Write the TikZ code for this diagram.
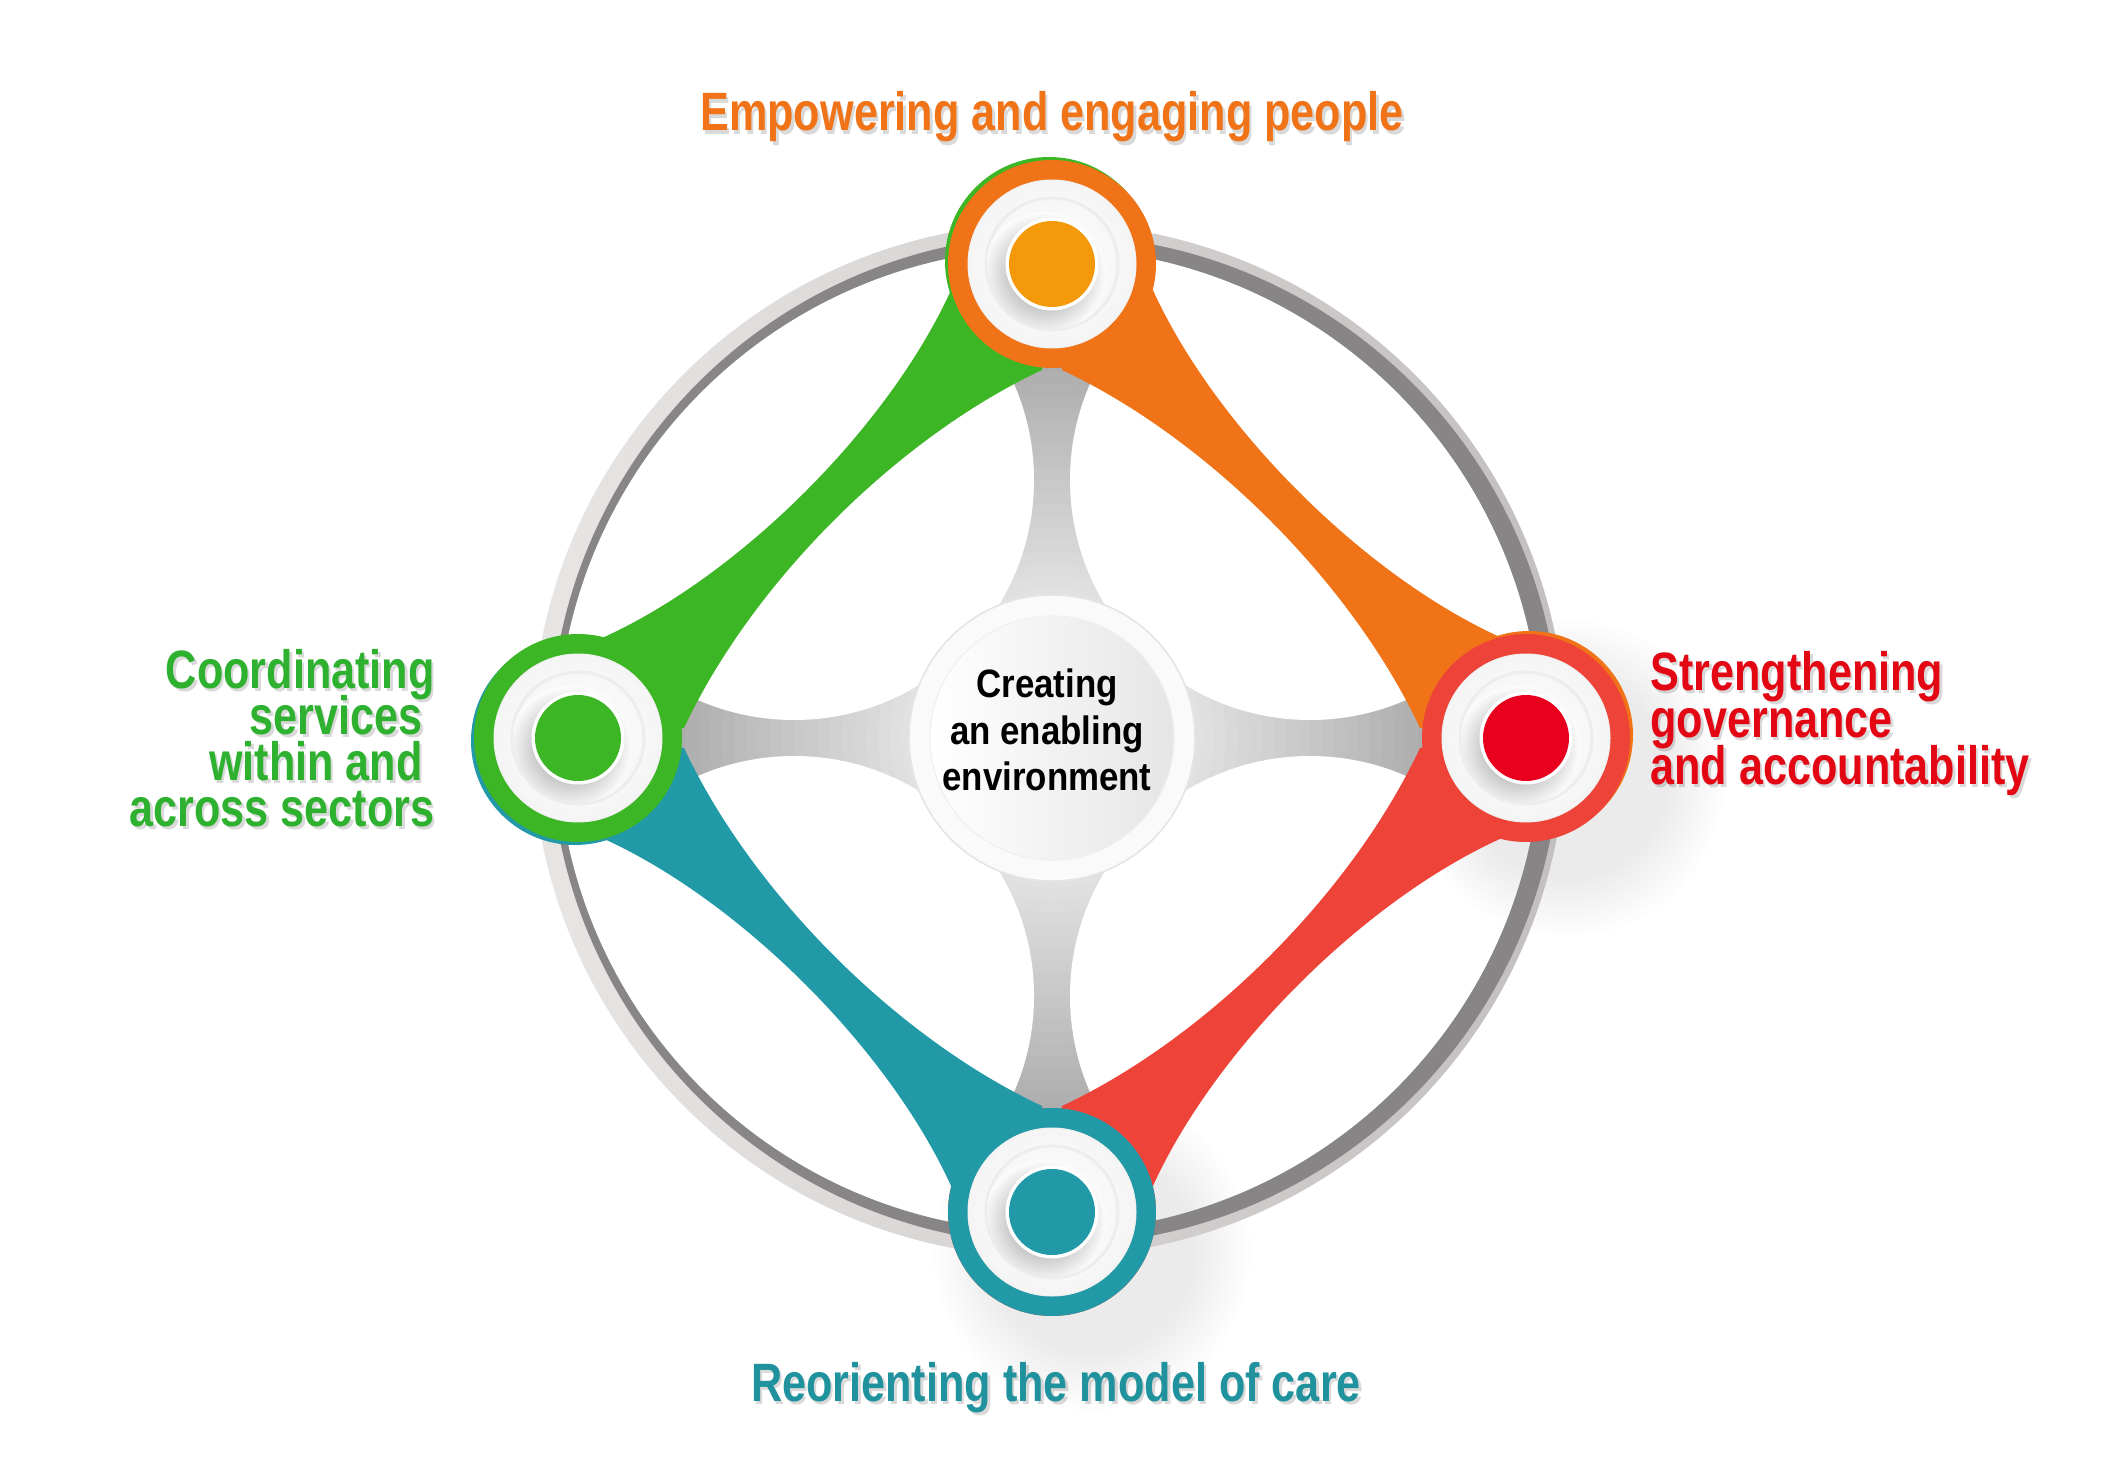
\documentclass[tikz,border=0pt]{standalone}
\usepackage{fontspec}
\newfontfamily\labfont{Liberation Sans}[FakeStretch=0.8]
\newfontfamily\cenfont{Liberation Sans}[FakeStretch=0.88]
\usetikzlibrary{calc}
\definecolor{cOrange}{HTML}{F07417}
\definecolor{cOrangeDot}{HTML}{F49A0A}
\definecolor{cOrangeTxt}{HTML}{F07318}
\definecolor{cRed}{HTML}{EE4338}
\definecolor{cRedDot}{HTML}{E8001E}
\definecolor{cRedTxt}{HTML}{E30613}
\definecolor{cGreen}{HTML}{3CB624}
\definecolor{cGreenTxt}{HTML}{2DB12E}
\definecolor{cTeal}{HTML}{2199A7}
\definecolor{cTealTxt}{HTML}{1F929E}
\definecolor{ringL}{HTML}{E8E6E5}
\definecolor{ringR}{HTML}{C2BFBE}
\definecolor{ringD}{HTML}{878585}
\definecolor{shadeLav}{HTML}{5A5A8C}
\tikzset{
  lab/.style={font=\labfont\bfseries\fontsize{27}{23}\selectfont, inner sep=0pt},
  cen/.style={font=\cenfont\bfseries\fontsize{19.8}{23}\selectfont, inner sep=0pt, text=black},
  shadowtxt/.style={text=black, opacity=0.15}
}
\newcommand{\hubnode}[4]{%
  \node[circle, fill=#3, minimum size=104pt, inner sep=0pt] (#1) at (#2) {};
  \shade[inner color=white, outer color=black!4] (#2) circle (84);
  \draw[black!6, line width=0.5pt] (#2) circle (84);
  \draw[black!7, line width=1.5pt] (#2) circle (66);
  \begin{scope}
    \clip (#2) circle (65);
    \shade[inner color=black!65, outer color=white, opacity=0.7] ($(#2)+(-8,10)$) circle (62);
  \end{scope}
  \fill[white] (#2) circle (46.5);
  \node[circle, fill=#4, minimum size=43pt, inner sep=0pt] (#1dot) at (#2) {};
}
\newcommand{\softshadow}[2]{%
  \foreach \k in {0,...,9}{
    \fill[shadeLav, opacity=0.012] ($(#1)+(#2)$) circle (104+\k*6);
  }
}
\newcommand{\plabel}[5]{%
  \node[lab, shadowtxt, anchor=#2] (#1s) at ($(#3)+(2.5,3.5)$) {#5};
  \node[lab, text=#4, anchor=#2] (#1) at (#3) {#5};
}
\begin{document}
\begin{tikzpicture}[x=0.5pt,y=-0.5pt]
\useasboundingbox (0,0) rectangle (2117,1482);
\fill[white] (0,0) rectangle (2117,1482);

\coordinate (C) at (1052,738);
\coordinate (T) at (1052,264);
\coordinate (R) at (1526,738);
\coordinate (B) at (1052,1212);
\coordinate (L) at (578,738);
\coordinate (RC) at (1049,740);

% soft shadows of the right and lower hubs
\softshadow{R}{40,40}
\softshadow{B}{40,40}

% outer gray ring
\shade[left color=ringL, right color=ringR, even odd rule] (RC) circle (517) (RC) circle (492);
\fill[ringD, even odd rule] ($(RC)+(6,0)$) circle (505) (RC) circle (492);

% gray cross
\begin{scope}
  \clip (T) -- (R) -- (B) -- (L) -- cycle;
  \foreach \i in {0,...,39}{
    \pgfmathsetmacro\rr{474-\i*12}
    \pgfmathsetmacro\pc{max(3,min(38,(\rr-110)*0.09+8))}
    \fill[black!\pc] (C) circle (\rr);
  }
  \fill[white] ($(C)+(258,-258)$) circle (240);
  \fill[white] ($(C)+(258,258)$) circle (240);
  \fill[white] ($(C)+(-258,258)$) circle (240);
  \fill[white] ($(C)+(-258,-258)$) circle (240);
\end{scope}

% coloured bands
\foreach \ang/\col/\off in {0/cOrange/3,-90/cRed/0,-180/cTeal/3,-270/cGreen/3}{
  \begin{scope}[shift={(C)}, rotate=\ang]
    \fill[\col] (474+\off,-\off) circle (104);
    \fill[\col] (100,-450) .. controls (162,-312) and (312,-162) .. (450,-100)
      -- (474,0) -- (368,-10) .. controls (300,-155) and (155,-300) .. (10,-368)
      -- (0,-474) -- cycle;
  \end{scope}
}

% hubs
\hubnode{nT}{T}{cOrange}{cOrangeDot}
\hubnode{nR}{R}{cRed}{cRedDot}
\hubnode{nB}{B}{cTeal}{cTeal}
\hubnode{nL}{L}{cGreen}{cGreen}

% centre
\node[circle, fill=black!2, draw=black!10, line width=0.8pt, minimum size=143pt, inner sep=0pt] (centre) at (C) {};
\shade[left color=white, right color=black!10] (C) circle (122);
\draw[black!6, line width=0.6pt] (C) circle (122);
\node[cen, anchor=base] (ct1) at (1047,697) {Creating};
\node[cen, anchor=base] (ct2) at (1047,744) {an enabling};
\node[cen, anchor=base] (ct3) at (1047,790) {environment};

% labels
\plabel{lt}{base}{1052,131}{cOrangeTxt}{Empowering and engaging people}
\plabel{lb}{base}{1056,1401}{cTealTxt}{Reorienting the model of care}
\plabel{lr1}{base west}{1650,690}{cRedTxt}{Strengthening}
\plabel{lr2}{base west}{1650,737}{cRedTxt}{governance}
\plabel{lr3}{base west}{1650,784}{cRedTxt}{and accountability}
\plabel{ll1}{base east}{435,688}{cGreenTxt}{Coordinating}
\plabel{ll2}{base east}{423,734}{cGreenTxt}{services}
\plabel{ll3}{base east}{423,780}{cGreenTxt}{within and}
\plabel{ll4}{base east}{435,826}{cGreenTxt}{across sectors}
\end{tikzpicture}
\end{document}
